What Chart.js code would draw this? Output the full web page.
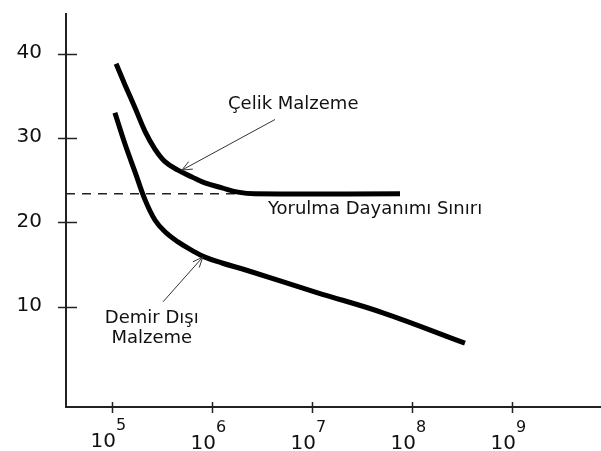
<!DOCTYPE html>
<html>
<head>
<meta charset="utf-8">
<script src="https://cdn.jsdelivr.net/npm/chart.js@4"></script>
<style>
  html, body { margin: 0; padding: 0; background: #fff; }
</style>
</head>
<body>
<canvas id="sn-chart" width="601" height="451"></canvas>
<script>
// S-N curves (N = cycles, S = stress)
const steelN = [1.10e5, 1.35e5, 1.70e5, 2.14e5, 2.69e5, 3.39e5, 4.57e5, 6.31e5, 8.51e5, 1.26e6, 1.82e6, 2.69e6, 7.6e7];
const steelS = [38.8, 36.3, 33.6, 30.8, 28.7, 27.2, 26.2, 25.4, 24.7, 24.1, 23.6, 23.4, 23.4];

const nonFerrousN = [1.07e5, 1.35e5, 1.70e5, 2.14e5, 2.69e5, 3.39e5, 4.57e5, 6.31e5, 8.51e5, 1.26e6, 2.14e6, 1.12e7, 5.13e7, 3.39e8];
const nonFerrousS = [33.0, 29.3, 26.0, 22.7, 20.3, 18.9, 17.7, 16.7, 15.9, 15.2, 14.4, 11.7, 9.3, 5.7];

// fatigue limit, dashed from the axis to the knee of the steel curve
const limitN = [3.47e4, 1.8e6];
const limitS = [23.4, 23.4];

const yTicks = [10, 20, 30, 40];
const xExponents = [5, 6, 7, 8, 9];

// labels and arrows, in data units
const labels = [
    { text: 'Çelik Malzeme', n: 6.5e6, s: 34.0, align: 'center' },
    { text: 'Yorulma Dayanımı Sınırı', n: 3.63e6, s: 21.5, align: 'left' },
    { text: 'Demir Dışı', n: 2.5e5, s: 8.6, align: 'center' },
    { text: 'Malzeme', n: 2.5e5, s: 6.3, align: 'center' }
];
const arrows = [
    { from: [4.27e6, 32.2], to: [5.0e5, 26.2] },
    { from: [3.24e5, 10.6], to: [8.1e5, 15.9] }
];

const FONT = '"DejaVu Sans", sans-serif';

function toPoints(xs, ys) {
    return xs.map((v, i) => ({ x: v, y: ys[i] }));
}

const decor = {
    id: 'decor',
    afterDraw(chart) {
        const ctx = chart.ctx;
        const xs = chart.scales.x, ys = chart.scales.y;
        const area = chart.chartArea;
        ctx.save();

        // tick marks crossing the axes
        ctx.strokeStyle = '#222';
        ctx.lineWidth = 1.5;
        yTicks.forEach(v => {
            const py = Math.round(ys.getPixelForValue(v)) + 0.5;
            ctx.beginPath();
            ctx.moveTo(area.left - 8, py);
            ctx.lineTo(area.left + 11, py);
            ctx.stroke();
        });
        xExponents.forEach(e => {
            const px = Math.round(xs.getPixelForValue(Math.pow(10, e))) + 0.5;
            ctx.beginPath();
            ctx.moveTo(px, area.bottom - 5);
            ctx.lineTo(px, area.bottom + 6);
            ctx.stroke();
        });

        // y tick labels
        ctx.fillStyle = '#111';
        ctx.font = '20px ' + FONT;
        ctx.textAlign = 'right';
        ctx.textBaseline = 'middle';
        yTicks.forEach(v => {
            ctx.fillText(String(v), 42, ys.getPixelForValue(v) - 1);
        });

        // x tick labels: 10 with a raised exponent
        ctx.textBaseline = 'alphabetic';
        xExponents.forEach((e, i) => {
            const px = xs.getPixelForValue(Math.pow(10, e));
            const lift = i === 0 ? 2 : 0;
            ctx.font = '20px ' + FONT;
            ctx.textAlign = 'right';
            ctx.fillText('10', px + 4, area.bottom + 42 - lift);
            ctx.font = '16px ' + FONT;
            ctx.textAlign = 'left';
            ctx.fillText(String(e), px + 4, area.bottom + 25 - lift);
        });

        // annotation text
        ctx.font = '18px ' + FONT;
        ctx.textBaseline = 'middle';
        labels.forEach(l => {
            ctx.textAlign = l.align;
            ctx.fillText(l.text, xs.getPixelForValue(l.n), ys.getPixelForValue(l.s));
        });

        // thin arrows with open heads
        ctx.strokeStyle = '#333';
        ctx.lineWidth = 1;
        arrows.forEach(a => {
            const fx = xs.getPixelForValue(a.from[0]), fy = ys.getPixelForValue(a.from[1]);
            const tx = xs.getPixelForValue(a.to[0]), ty = ys.getPixelForValue(a.to[1]);
            const ang = Math.atan2(ty - fy, tx - fx);
            ctx.beginPath();
            ctx.moveTo(fx, fy);
            ctx.lineTo(tx, ty);
            ctx.moveTo(tx - 11 * Math.cos(ang - 0.4), ty - 11 * Math.sin(ang - 0.4));
            ctx.lineTo(tx, ty);
            ctx.lineTo(tx - 11 * Math.cos(ang + 0.4), ty - 11 * Math.sin(ang + 0.4));
            ctx.stroke();
        });

        ctx.restore();
    }
};

const ctx = document.getElementById('sn-chart').getContext('2d');
const chart = new Chart(ctx, {
    type: 'line',
    data: {
        datasets: [
            {
                data: toPoints(steelN, steelS),
                borderColor: '#000',
                borderWidth: 5,
                pointRadius: 0,
                tension: 0.4,
                fill: false
            },
            {
                data: toPoints(nonFerrousN, nonFerrousS),
                borderColor: '#000',
                borderWidth: 5,
                pointRadius: 0,
                tension: 0.4,
                fill: false
            },
            {
                data: toPoints(limitN, limitS),
                borderColor: '#222',
                borderWidth: 1.5,
                borderDash: [9, 7],
                pointRadius: 0,
                fill: false
            }
        ]
    },
    options: {
        responsive: false,
        animation: false,
        devicePixelRatio: 1,
        layout: {
            padding: { left: 66, top: 14, right: 1, bottom: 44 }
        },
        plugins: {
            legend: { display: false },
            tooltip: { enabled: false }
        },
        scales: {
            x: {
                type: 'logarithmic',
                min: 3.47e4,
                max: 7.6e9,
                grid: { display: false },
                ticks: { display: false },
                border: { display: true, color: '#222', width: 2 },
                afterFit(scale) { scale.height = 0; }
            },
            y: {
                type: 'linear',
                min: -1.86,
                max: 44.7,
                grid: { display: false },
                ticks: { display: false },
                border: { display: true, color: '#222', width: 2 },
                afterFit(scale) { scale.width = 0; }
            }
        }
    },
    plugins: [decor]
});
</script>
</body>
</html>
